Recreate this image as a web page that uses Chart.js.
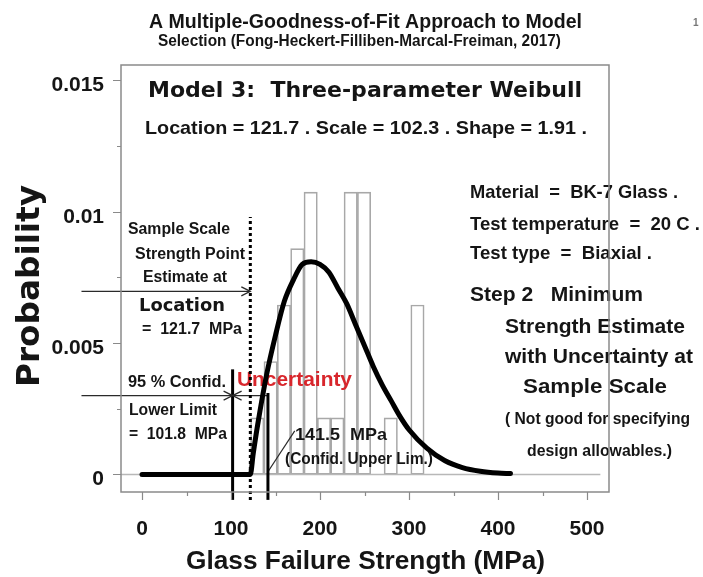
<!DOCTYPE html>
<html>
<head>
<meta charset="utf-8">
<script src="https://cdn.jsdelivr.net/npm/chart.js@4.4.1/dist/chart.umd.min.js"></script>
<style>
  html, body { margin: 0; padding: 0; background: #fff; }
</style>
</head>
<body>
<canvas id="my-chart" width="703" height="577"></canvas>
<script>
'use strict';

// histogram (density, bins of 15 MPa)
const binCenters = [129.5, 144.5, 159.5, 174.5, 189.5, 204.5, 219.5, 234.5, 249.5, 264.5, 279.5, 294.5, 309.5];
const binDensity = [0.00215, 0.0043, 0.00645, 0.0086, 0.01075, 0.00215, 0.00215, 0.01075, 0.01075, 0, 0.00215, 0, 0.00645];

// fitted 3-parameter Weibull curve
const fitX = [0, 121.7, 125, 130, 140, 150, 160, 170, 180, 190, 200, 210, 220, 230, 240, 250, 260, 270, 280, 290, 300, 320, 340, 360, 380, 400, 414];
const fitY = [0, 0, 0.0008, 0.0019, 0.0038, 0.0053, 0.0066, 0.0074, 0.0080, 0.0081, 0.0080, 0.0077, 0.0071, 0.0065, 0.0057, 0.0049, 0.0041, 0.0034, 0.0028, 0.0022, 0.0017, 0.0010, 0.00053, 0.00026, 0.00012, 0.00005, 0.00003];

// vertical markers: lower limit, location, upper limit
const markerX = [101.8, 121.7, 141.5];
const markerTop = [0.0040, 0.0098, 0.0031];
const markerBottom = -0.00097;

// pointer arrows: [startX, endX, y]
const arrowStart = [-68, -68, 141.5];
const arrowEnd = [121.7, 101.8, 101.8];
const arrowY = [0.00697, 0.0030, 0.0030];

// leader from "141.5 MPa" label
const leaderX = [141.5, 171.6];
const leaderY = [0.0001, 0.00166];

const xTickValues = [0, 50, 100, 150, 200, 250, 300, 350, 400, 450, 500];
const xTicks = [0, 100, 200, 300, 400, 500];
const yTickValues = [0, 0.0025, 0.005, 0.0075, 0.01, 0.0125, 0.015];
const yTicks = [0, 0.005, 0.01, 0.015];
const yTickLabels = ['0', '0.005', '0.01', '0.015'];

const ink = '#151515';
const sans = '"Liberation Sans", Arial, sans-serif';
const wide = '"DejaVu Sans", Verdana, sans-serif';

const notes = [
  { text: 'A Multiple-Goodness-of-Fit Approach to Model', x: 149, y: 22, w: 433, font: 'bold 20px ' + sans },
  { text: 'Selection (Fong-Heckert-Filliben-Marcal-Freiman, 2017)', x: 158, y: 42, w: 403, font: 'bold 16px ' + sans },
  { text: '1', x: 693, y: 23, font: 'bold 10px ' + sans, color: '#777' },
  { text: 'Model 3:  Three-parameter Weibull', x: 148, y: 91, w: 434, font: 'bold 22px ' + wide },
  { text: 'Location = 121.7 . Scale = 102.3 . Shape = 1.91 .', x: 145, y: 129, w: 442, font: 'bold 19px ' + sans },
  { text: 'Material  =  BK-7 Glass .', x: 470, y: 193, w: 208, font: 'bold 19px ' + sans },
  { text: 'Test temperature  =  20 C .', x: 470, y: 225, w: 230, font: 'bold 19px ' + sans },
  { text: 'Test type  =  Biaxial .', x: 470, y: 254, w: 182, font: 'bold 19px ' + sans },
  { text: 'Step 2   Minimum', x: 470, y: 295, w: 173, font: 'bold 21px ' + sans },
  { text: 'Strength Estimate', x: 505, y: 327, w: 180, font: 'bold 21px ' + sans },
  { text: 'with Uncertainty at', x: 505, y: 357, w: 188, font: 'bold 21px ' + sans },
  { text: 'Sample Scale', x: 523, y: 387, w: 144, font: 'bold 21px ' + sans },
  { text: '( Not good for specifying', x: 505, y: 420, w: 185, font: 'bold 16px ' + sans },
  { text: 'design allowables.)', x: 527, y: 452, w: 145, font: 'bold 16px ' + sans },
  { text: 'Sample Scale', x: 128, y: 230, w: 102, font: 'bold 16px ' + sans },
  { text: 'Strength Point', x: 135, y: 255, w: 110, font: 'bold 16px ' + sans },
  { text: 'Estimate at', x: 143, y: 278, w: 84, font: 'bold 16px ' + sans },
  { text: 'Location', x: 139, y: 307, w: 86, font: 'bold 17px ' + wide },
  { text: '=  121.7  MPa', x: 142, y: 330, w: 100, font: 'bold 16px ' + sans },
  { text: '95 % Confid.', x: 128, y: 383, w: 98, font: 'bold 16px ' + sans },
  { text: 'Lower Limit', x: 129, y: 411, w: 88, font: 'bold 16px ' + sans },
  { text: '=  101.8  MPa', x: 129, y: 435, w: 98, font: 'bold 16px ' + sans },
  { text: '141.5  MPa', x: 295, y: 435, w: 92, font: 'bold 17px ' + sans },
  { text: '(Confid. Upper Lim.)', x: 285, y: 460, w: 148, font: 'bold 16px ' + sans },
  { text: 'Glass Failure Strength (MPa)', x: 186, y: 562, w: 359, font: 'bold 26px ' + sans },
  { text: 'Probability', x: 31, y: 387, w: 202, rot: -Math.PI / 2, font: 'bold 32px ' + wide }
];
const redNote = { text: 'Uncertainty', x: 237, y: 380, w: 115, font: 'bold 20px ' + sans, color: '#d8262c' };

function putText(ctx, t) {
  ctx.save();
  ctx.font = t.font;
  ctx.fillStyle = t.color || ink;
  ctx.textBaseline = 'middle';
  ctx.textAlign = 'left';
  const m = ctx.measureText(t.text).width;
  ctx.translate(t.x, t.y);
  if (t.rot) ctx.rotate(t.rot);
  ctx.scale(t.w ? t.w / m : 1, 1);
  ctx.fillText(t.text, 0, 0);
  ctx.restore();
}

function chevron(ctx, x, y, dir) {
  ctx.beginPath();
  ctx.moveTo(x - dir * 9, y - 4.5);
  ctx.lineTo(x, y);
  ctx.lineTo(x - dir * 9, y + 4.5);
  ctx.stroke();
}

const annot = {
  id: 'annot',
  afterDatasetDraw(chart, args) {
    if (args.index === 0) putText(chart.ctx, redNote);
  },
  afterDatasetsDraw(chart) {
    const ctx = chart.ctx, xs = chart.scales.x, ys = chart.scales.y;
    ctx.save();
    ctx.strokeStyle = '#2a2a2a';
    ctx.lineWidth = 1.3;
    for (let i = 0; i < arrowEnd.length; i++) {
      const dir = arrowEnd[i] > arrowStart[i] ? 1 : -1;
      chevron(ctx, xs.getPixelForValue(arrowEnd[i]), ys.getPixelForValue(arrowY[i]), dir);
    }
    ctx.restore();
    notes.forEach(n => putText(ctx, n));
  },
  afterDraw(chart) {
    const ctx = chart.ctx, a = chart.chartArea, xs = chart.scales.x, ys = chart.scales.y;
    ctx.save();
    ctx.strokeStyle = '#8a8a8a';
    ctx.lineWidth = 1.5;
    ctx.strokeRect(a.left, a.top, a.right - a.left, a.bottom - a.top);
    ctx.lineWidth = 1.2;
    ctx.beginPath();
    xs.ticks.forEach(t => {
      const px = Math.round(xs.getPixelForValue(t.value)) + 0.5;
      const len = xTicks.includes(t.value) ? 8 : 4;
      ctx.moveTo(px, a.bottom);
      ctx.lineTo(px, a.bottom + len);
    });
    ys.ticks.forEach(t => {
      const py = Math.round(ys.getPixelForValue(t.value)) + 0.5;
      const len = yTicks.includes(t.value) ? 8 : 4;
      ctx.moveTo(a.left, py);
      ctx.lineTo(a.left - len, py);
    });
    ctx.stroke();
    ctx.restore();
  }
};

const histData = binCenters.map((c, i) => ({ x: c, y: binDensity[i] }));
const fitData = fitX.map((x, i) => ({ x: x, y: fitY[i] }));

const datasets = [
  {
    type: 'bar', label: 'Histogram', data: histData, order: 10,
    backgroundColor: 'rgba(255,255,255,0)', borderColor: '#a8a8a8', borderWidth: 1,
    borderSkipped: false, barPercentage: 1, categoryPercentage: 1
  },
  {
    type: 'line', label: 'Zero', data: [{ x: -23.6, y: 0 }, { x: 515, y: 0 }], order: 9,
    borderColor: '#b8b8b8', borderWidth: 1.5, pointRadius: 0
  },
  {
    type: 'line', label: 'Weibull fit', data: fitData, order: 0,
    borderColor: '#000', borderWidth: 5, pointRadius: 0, cubicInterpolationMode: 'monotone',
    borderCapStyle: 'round', borderJoinStyle: 'round'
  },
  {
    type: 'line', label: 'Leader', order: 4, clip: false,
    data: leaderX.map((x, i) => ({ x: x, y: leaderY[i] })),
    borderColor: '#2a2a2a', borderWidth: 1.2, pointRadius: 0
  }
];

markerX.forEach((mx, i) => {
  datasets.push({
    type: 'line', label: 'Marker ' + i, order: 2, clip: false,
    data: [{ x: mx, y: markerBottom }, { x: mx, y: markerTop[i] }],
    borderColor: '#000', borderWidth: 3, pointRadius: 0,
    borderDash: i === 1 ? [3, 3] : []
  });
});

arrowEnd.forEach((ex, i) => {
  datasets.push({
    type: 'line', label: 'Arrow ' + i, order: 3, clip: false,
    data: [{ x: arrowStart[i], y: arrowY[i] }, { x: ex, y: arrowY[i] }],
    borderColor: '#2a2a2a', borderWidth: 1.3, pointRadius: 0
  });
});

const ctx = document.getElementById('my-chart').getContext('2d');
new Chart(ctx, {
  type: 'bar',
  data: { datasets: datasets },
  options: {
    responsive: false,
    animation: false,
    layout: { padding: { left: 0, top: 65, right: 94, bottom: 0 } },
    plugins: { legend: { display: false }, tooltip: { enabled: false } },
    scales: {
      x: {
        type: 'linear', min: -23.6, max: 524.7, offset: false,
        grid: { display: false, drawTicks: false, offset: false },
        border: { display: false },
        afterBuildTicks: s => { s.ticks = xTickValues.map(v => ({ value: v })); },
        ticks: {
          autoSkip: false, maxRotation: 0, padding: 25,
          color: ink, font: { family: 'Liberation Sans', size: 21, weight: 'bold' },
          callback: v => xTicks.includes(v) ? String(v) : ''
        },
        afterFit: s => { s.height = 85; }
      },
      y: {
        type: 'linear', min: -0.00067, max: 0.01559,
        grid: { display: false, drawTicks: false },
        border: { display: false },
        afterBuildTicks: s => { s.ticks = yTickValues.map(v => ({ value: v })); },
        ticks: {
          autoSkip: false, padding: 17, labelOffset: 5,
          color: ink, font: { family: 'Liberation Sans', size: 21, weight: 'bold' },
          callback: v => {
            const i = yTicks.indexOf(v);
            return i >= 0 ? yTickLabels[i] : '';
          }
        },
        afterFit: s => { s.width = 121; }
      }
    }
  },
  plugins: [annot]
});
</script>
</body>
</html>
